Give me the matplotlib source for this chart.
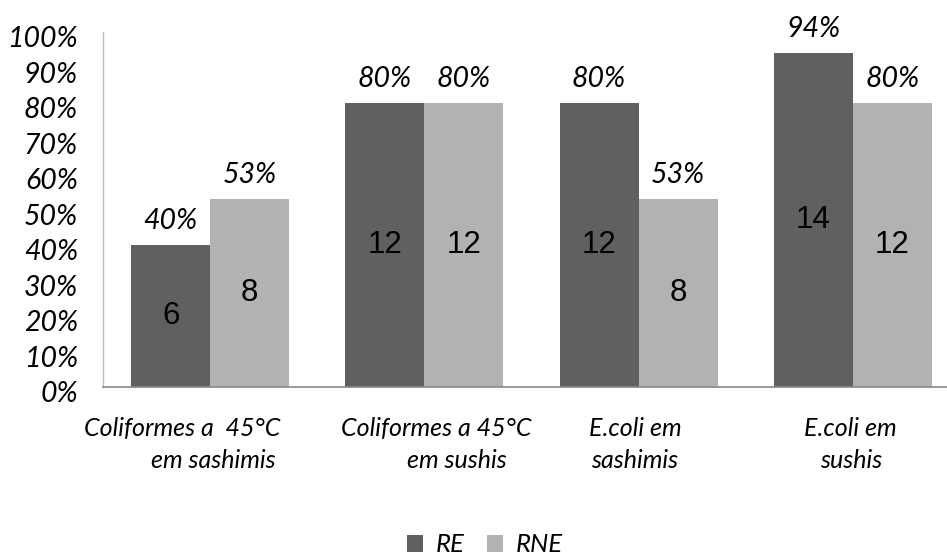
import matplotlib
matplotlib.use("Agg")
import matplotlib.pyplot as plt
import matplotlib.transforms as mtransforms
from matplotlib.patches import Patch
import numpy as np

# Data
category_lines = [
    ("Coliformes a  45°C", "em sashimis"),
    ("Coliformes a 45°C", "em sushis"),
    ("E.coli em", "sashimis"),
    ("E.coli em", "sushis"),
]
series_names = ["RE", "RNE"]
re_pct = [40, 80, 80, 94]
rne_pct = [53, 80, 53, 80]
re_counts = [6, 12, 12, 14]
rne_counts = [8, 12, 8, 12]
y_ticks = [0, 10, 20, 30, 40, 50, 60, 70, 80, 90, 100]

# Styling
dark = "#606060"
light = "#b2b2b2"
ital = dict(family="Lato", style="italic", color="black")
num_font = dict(family="Liberation Sans", color="black")

fig = plt.figure(figsize=(9.47, 5.6), dpi=100)
ax = fig.add_axes([0.1088, 0.309, 0.8912, 0.634])

x = np.arange(len(category_lines))
w = 0.369
bars_re = ax.bar(x - w / 2, re_pct, w, color=dark, zorder=2)
bars_rne = ax.bar(x + w / 2, rne_pct, w, color=light, zorder=2)

ax.set_xlim(-0.5, 3.44)
ax.set_ylim(0, 100)

# Spines
for s in ["top", "right"]:
    ax.spines[s].set_visible(False)
ax.spines["left"].set_color("#c0c0c0")
ax.spines["left"].set_linewidth(1.0)
ax.spines["bottom"].set_color("#888888")
ax.spines["bottom"].set_linewidth(1.2)

# Y axis
ax.set_yticks(y_ticks)
ax.set_yticklabels([f"{v}%" for v in y_ticks], fontsize=20.5, **ital)
ax.tick_params(axis="y", length=0, pad=18)
shift = mtransforms.ScaledTranslation(0, -5 / 100, fig.dpi_scale_trans)
for lab in ax.get_yticklabels():
    lab.set_transform(lab.get_transform() + shift)

ax.set_xticks([])

# Percent labels above bars and counts inside bars
for bars, pcts, counts in [(bars_re, re_pct, re_counts), (bars_rne, rne_pct, rne_counts)]:
    for b, p, c in zip(bars, pcts, counts):
        cx = b.get_x() + b.get_width() / 2
        ax.annotate(f"{p}%", xy=(cx, p), xytext=(0, 11.5), textcoords="offset points",
                    ha="center", va="baseline", fontsize=20.5, **ital)
        ax.text(cx, p / 2, f"{c}", ha="center", va="center", fontsize=22.5, **num_font)

# Category labels (two lines each)
line_dx = [(-28, 3), (12, 33), (-3, -4), (-2, -2)]
for i, (lines, dxs) in enumerate(zip(category_lines, line_dx)):
    for txt, dx, dy in zip(lines, dxs, (-42, -74)):
        ax.annotate(txt, xy=(i, 0), xycoords=("data", "axes fraction"),
                    xytext=(dx * 0.72, dy * 0.72), textcoords="offset points",
                    ha="center", va="center", fontsize=18, **ital)

# Legend
handles = [Patch(facecolor=dark), Patch(facecolor=light)]
leg = fig.legend(handles, series_names, loc="center", bbox_to_anchor=(485 / 947, 1 - 545 / 560),
                 ncol=2, frameon=False, handlelength=0.62, handleheight=0.62,
                 handletextpad=0.5, columnspacing=0.85, borderpad=0.2,
                 prop=dict(family="Lato", style="italic", size=18.5))

fig.savefig("out.png", dpi=100)
